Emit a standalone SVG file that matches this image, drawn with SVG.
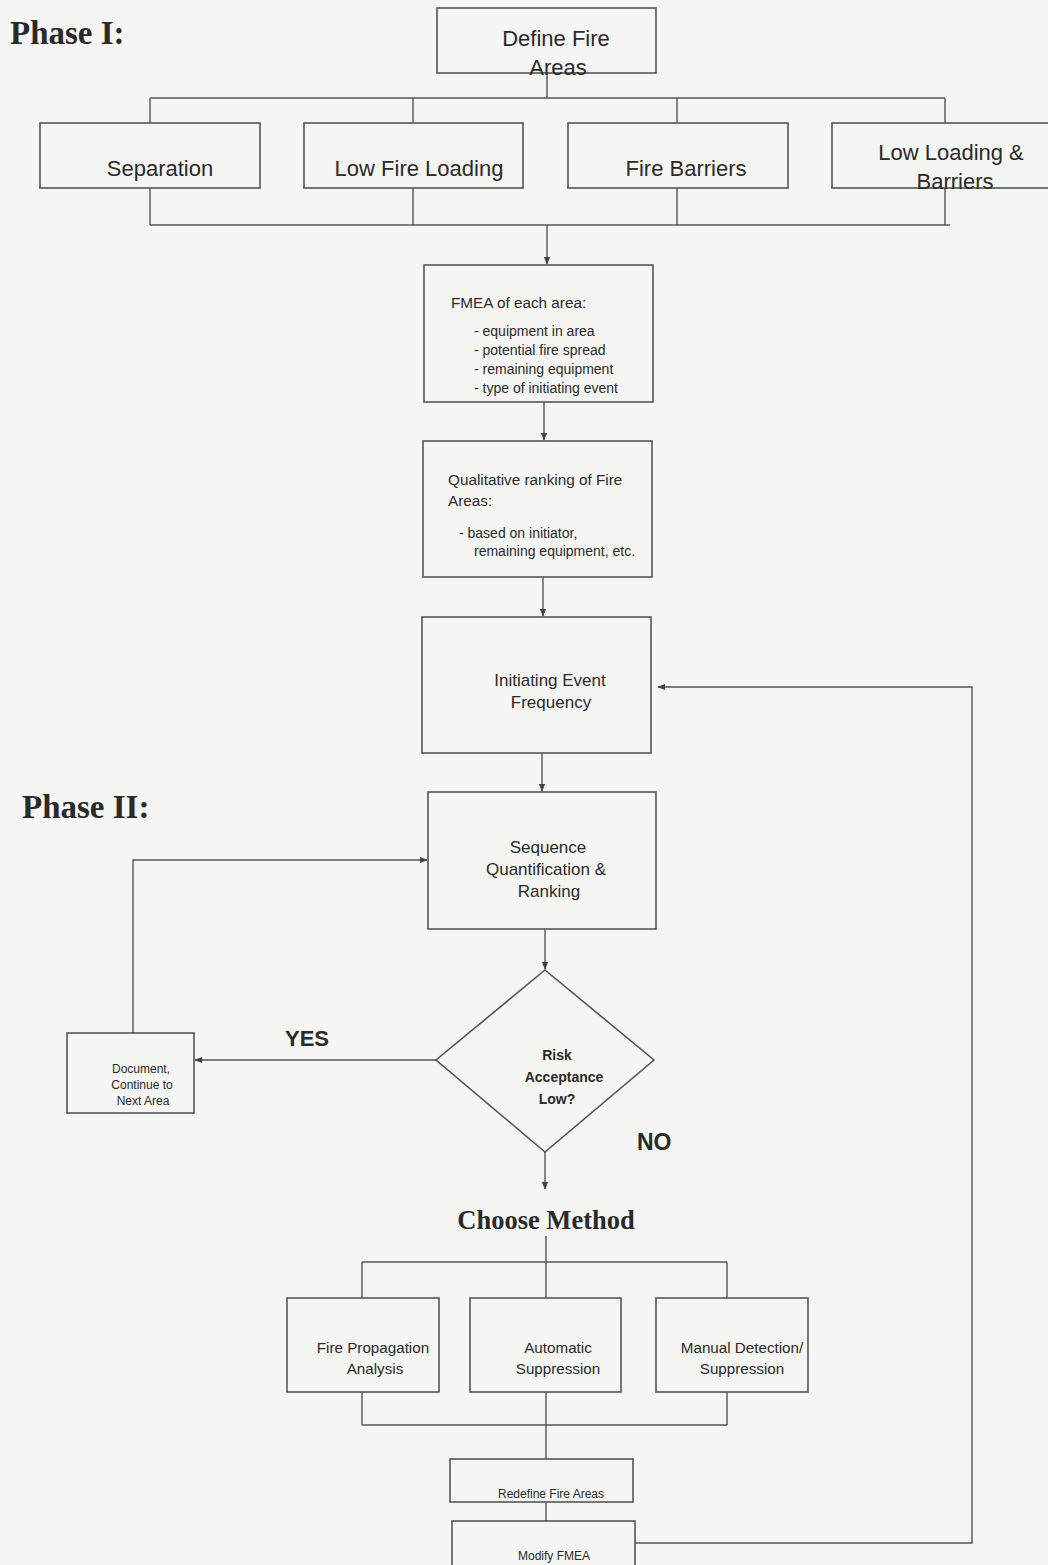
<svg xmlns="http://www.w3.org/2000/svg" width="1048" height="1565" viewBox="0 0 1048 1565">
<defs>
<marker id="ah" viewBox="0 0 10 10" refX="9" refY="5" markerWidth="8" markerHeight="8" orient="auto-start-reverse" markerUnits="userSpaceOnUse">
<path d="M0,1 L10,5 L0,9 z" fill="#444"/>
</marker>
<style>
.box{fill:none;stroke:#555;stroke-width:1.6}
.ln{fill:none;stroke:#555;stroke-width:1.4}
.t{font-family:"Liberation Sans",Arial,sans-serif;fill:#2a2a2a;text-anchor:middle}
.tl{font-family:"Liberation Sans",Arial,sans-serif;fill:#2a2a2a}
.ph{font-family:"Liberation Serif","Times New Roman",serif;font-weight:bold;fill:#2a2a2a}
.big{font-size:22px}
.lab{font-family:"Liberation Sans",Arial,sans-serif;font-weight:bold;fill:#2a2a2a}
</style>
</defs>
<rect width="1048" height="1565" fill="#f5f5f3"/>
<text class="ph" x="10" y="44" font-size="33">Phase I:</text>
<text class="ph" x="22" y="818" font-size="33">Phase II:</text>

<g id="connectors">
<path class="ln" d="M547,73 V98 M150,98 H945 M150,98 V123 M413,98 V123 M677,98 V123 M945,98 V123"/>
<path class="ln" d="M150,188 V225 M413,188 V225 M677,188 V225 M945,188 V225 M150,225 H950"/>
<path class="ln" d="M547,225 V264" marker-end="url(#ah)"/>
<path class="ln" d="M544,402 V440" marker-end="url(#ah)"/>
<path class="ln" d="M543,577 V616" marker-end="url(#ah)"/>
<path class="ln" d="M542,753 V791" marker-end="url(#ah)"/>
<path class="ln" d="M545,929 V969" marker-end="url(#ah)"/>
<path class="ln" d="M436,1060 H195" marker-end="url(#ah)"/>
<path class="ln" d="M133,1033 V860 H427" marker-end="url(#ah)"/>
<path class="ln" d="M545,1152 V1189" marker-end="url(#ah)"/>
<path class="ln" d="M546,1236 V1262 M362,1262 H727 M362,1262 V1298 M546,1262 V1298 M727,1262 V1298"/>
<path class="ln" d="M362,1392 V1425 M546,1392 V1459 M727,1392 V1425 M362,1425 H727"/>
<path class="ln" d="M546,1502 V1521"/>
<path class="ln" d="M635,1543 H972 V687 H658" marker-end="url(#ah)"/>
</g>

<g id="define"><rect class="box" x="437" y="8" width="219" height="65"/>
<text class="t big" x="556" y="46">Define Fire</text><text class="t big" x="558" y="75">Areas</text></g>
<g id="separation"><rect class="box" x="40" y="123" width="220" height="65"/>
<text class="t big" x="160" y="176">Separation</text></g>
<g id="lowfire"><rect class="box" x="304" y="123" width="219" height="65"/>
<text class="t big" x="419" y="176">Low Fire Loading</text></g>
<g id="barriers"><rect class="box" x="568" y="123" width="220" height="65"/>
<text class="t big" x="686" y="176">Fire Barriers</text></g>
<g id="lowloadbar"><rect class="box" x="832" y="123" width="220" height="65"/>
<text class="t big" x="951" y="160">Low Loading &amp;</text><text class="t big" x="955" y="189">Barriers</text></g>

<g id="fmea"><rect class="box" x="424" y="265" width="229" height="137"/>
<text class="tl" x="451" y="308" font-size="15.3">FMEA of each area:</text>
<text class="tl" x="474" y="336" font-size="14">- equipment in area</text>
<text class="tl" x="474" y="355" font-size="14">- potential fire spread</text>
<text class="tl" x="474" y="374" font-size="14">- remaining equipment</text>
<text class="tl" x="474" y="393" font-size="14">- type of initiating event</text></g>

<g id="qual"><rect class="box" x="423" y="441" width="229" height="136"/>
<text class="tl" x="448" y="485" font-size="15.3">Qualitative ranking of Fire</text>
<text class="tl" x="448" y="506" font-size="15.3">Areas:</text>
<text class="tl" x="459" y="538" font-size="14">- based on initiator,</text>
<text class="tl" x="474" y="556" font-size="14">remaining  equipment, etc.</text></g>

<g id="ief"><rect class="box" x="422" y="617" width="229" height="136"/>
<text class="t" x="550" y="686" font-size="17">Initiating Event</text>
<text class="t" x="551" y="708" font-size="17">Frequency</text></g>

<g id="seq"><rect class="box" x="428" y="792" width="228" height="137"/>
<text class="t" x="548" y="853" font-size="17">Sequence</text>
<text class="t" x="546" y="875" font-size="17">Quantification &amp;</text>
<text class="t" x="549" y="897" font-size="17">Ranking</text></g>

<g id="decision"><path class="box" d="M545,970 L654,1060 L545,1152 L436,1060 Z"/>
<text class="t" x="557" y="1060" font-size="14" font-weight="bold">Risk</text>
<text class="t" x="564" y="1082" font-size="14" font-weight="bold">Acceptance</text>
<text class="t" x="557" y="1104" font-size="14" font-weight="bold">Low?</text></g>
<text class="lab" x="285" y="1046" font-size="22">YES</text>
<text class="lab" x="637" y="1150" font-size="23">NO</text>

<g id="document"><rect class="box" x="67" y="1033" width="127" height="80"/>
<text class="t" x="141" y="1073" font-size="12">Document,</text>
<text class="t" x="142" y="1089" font-size="12">Continue to</text>
<text class="t" x="143" y="1105" font-size="12">Next Area</text></g>

<text class="ph" x="546" y="1229" font-size="26.5" text-anchor="middle">Choose Method</text>

<g id="firepropagation"><rect class="box" x="287" y="1298" width="152" height="94"/>
<text class="t" x="373" y="1353" font-size="15.2">Fire Propagation</text>
<text class="t" x="375" y="1374" font-size="15.2">Analysis</text></g>
<g id="autosupp"><rect class="box" x="470" y="1298" width="151" height="94"/>
<text class="t" x="558" y="1353" font-size="15.2">Automatic</text>
<text class="t" x="558" y="1374" font-size="15.2">Suppression</text></g>
<g id="manual"><rect class="box" x="656" y="1298" width="152" height="94"/>
<text class="t" x="742" y="1353" font-size="15.2">Manual Detection/</text>
<text class="t" x="742" y="1374" font-size="15.2">Suppression</text></g>

<g id="redefine"><rect class="box" x="450" y="1459" width="183" height="43"/>
<text class="t" x="551" y="1498" font-size="12">Redefine Fire Areas</text></g>
<g id="modify"><rect class="box" x="452" y="1521" width="183" height="50"/>
<text class="t" x="554" y="1560" font-size="12">Modify FMEA</text></g>
</svg>
